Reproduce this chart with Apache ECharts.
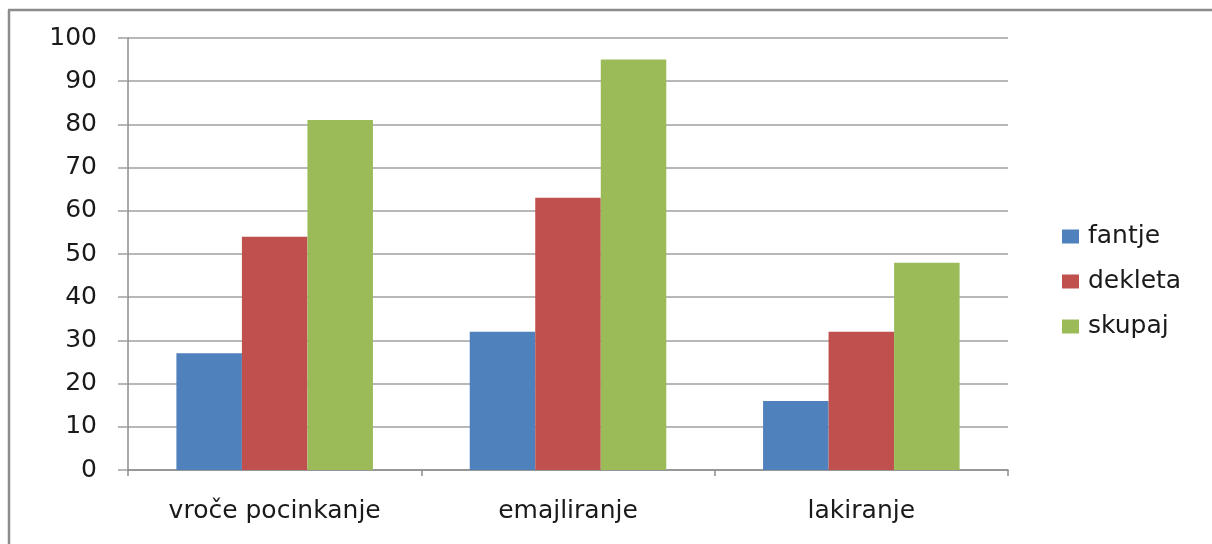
<!DOCTYPE html>
<html>
<head>
<meta charset="utf-8">
<script src="https://cdn.jsdelivr.net/npm/echarts@6/dist/echarts.min.js"></script>
<style>html,body{margin:0;padding:0;background:#fff;overflow:hidden;}#c{width:1212px;height:544px;}</style>
</head>
<body>
<div id="c"></div>
<script>
var categories = ['vroče pocinkanje', 'emajliranje', 'lakiranje'];
var fantje = [27, 32, 16];
var dekleta = [54, 63, 32];
var skupaj = [81, 95, 48];
var seriesNames = ['fantje', 'dekleta', 'skupaj'];
var colors = ['#4F81BD', '#C0504D', '#9BBB59'];

var FONT = 'DejaVu Sans';
var chart = echarts.init(document.getElementById('c'));
var data = [fantje, dekleta, skupaj];
chart.setOption({
  animation: false,
  backgroundColor: '#fff',
  color: colors,
  grid: { left: 128, right: 204, top: 38, bottom: 74, containLabel: false },
  legend: {
    orient: 'vertical',
    left: 1062,
    top: 224,
    padding: 0,
    itemWidth: 17,
    itemHeight: 14,
    itemGap: 20,
    icon: 'rect',
    textStyle: { fontFamily: FONT, fontSize: 25, color: '#1a1a1a', padding: [0, 0, 0, 4] },
    data: seriesNames
  },
  xAxis: {
    type: 'category',
    data: categories,
    axisLine: { lineStyle: { color: '#8c8c8c', width: 1.5 } },
    axisTick: { show: true, length: 6, lineStyle: { color: '#8c8c8c', width: 1.5 } },
    axisLabel: { margin: 29, fontFamily: FONT, fontSize: 25, color: '#1a1a1a' }
  },
  yAxis: {
    type: 'value',
    min: 0, max: 100, interval: 10,
    axisLine: { show: true, lineStyle: { color: '#8c8c8c', width: 1.5 } },
    axisTick: { show: true, length: 10, lineStyle: { color: '#a0a0a0', width: 1.5 } },
    splitLine: { lineStyle: { color: '#a0a0a0', width: 1.5 } },
    axisLabel: { margin: 31, fontFamily: FONT, fontSize: 25, color: '#1a1a1a' }
  },
  series: seriesNames.map(function (n, i) {
    return {
      name: n,
      type: 'bar',
      data: data[i],
      barGap: '0%',
      barCategoryGap: '33%',
      itemStyle: { color: colors[i] }
    };
  }),
  graphic: [{
    type: 'line',
    shape: { x1: 9, y1: 10, x2: 9, y2: 600 },
    style: { stroke: '#8c8c8c', lineWidth: 2.5 },
    silent: true
  }, {
    type: 'line',
    shape: { x1: 8, y1: 10, x2: 1300, y2: 10 },
    style: { stroke: '#8c8c8c', lineWidth: 2.5 },
    silent: true
  }]
});
</script>
</body>
</html>
